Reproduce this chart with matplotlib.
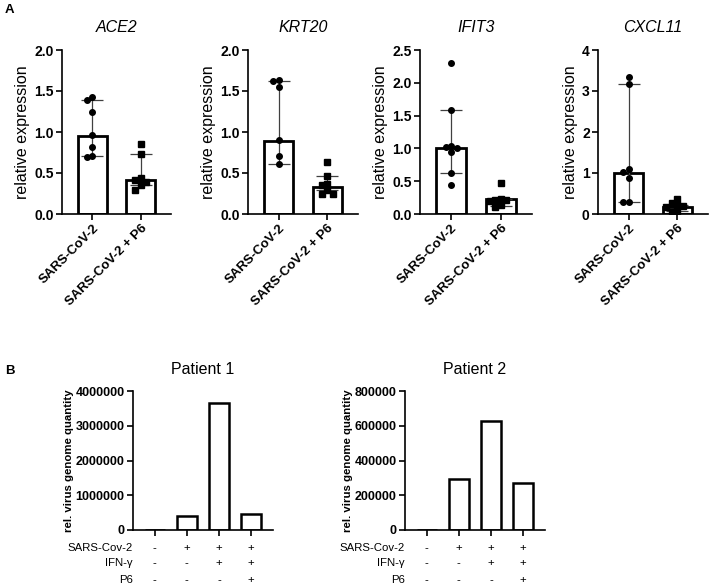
# -*- coding: utf-8 -*-
"""
Expression of ACE2, KRT20, IFIT3, CXCL11 (A) and virus genome quantity (B).
"""
import matplotlib
matplotlib.use('Agg')
import matplotlib.pyplot as plt
import matplotlib.transforms as mtransforms

plt.rcParams['font.family'] = ['Liberation Sans', 'DejaVu Sans']

# Panel A data
genes = ['ACE2', 'KRT20', 'IFIT3', 'CXCL11']
groups = ['SARS-CoV-2', 'SARS-CoV-2 + P6']

ace2_cov = [1.43, 1.39, 1.25, 0.96, 0.82, 0.71, 0.69]
ace2_p6 = [0.85, 0.73, 0.44, 0.42, 0.39, 0.35, 0.29]
krt20_cov = [1.64, 1.62, 1.55, 0.90, 0.71, 0.61]
krt20_p6 = [0.63, 0.46, 0.37, 0.35, 0.29, 0.25, 0.25]
ifit3_cov = [2.30, 1.58, 1.04, 1.02, 1.00, 0.95, 0.63, 0.44]
ifit3_p6 = [0.47, 0.23, 0.22, 0.22, 0.20, 0.13, 0.11]
cxcl11_cov = [3.35, 3.17, 1.09, 1.02, 0.89, 0.29, 0.29]
cxcl11_p6 = [0.36, 0.27, 0.21, 0.20, 0.17, 0.07, 0.05]

# bar height (median) and error bar ends, per gene: [cov, p6]
medians = [[0.95, 0.41], [0.89, 0.33], [1.00, 0.23], [1.01, 0.18]]
err_low = [[0.71, 0.35], [0.61, 0.29], [0.63, 0.12], [0.29, 0.07]]
err_high = [[1.39, 0.73], [1.62, 0.46], [1.58, 0.23], [3.17, 0.21]]

ymax_a = [2.0, 2.0, 2.5, 4.0]
yticks_a = [[0, 0.5, 1.0, 1.5, 2.0], [0, 0.5, 1.0, 1.5, 2.0],
            [0, 0.5, 1.0, 1.5, 2.0, 2.5], [0, 1, 2, 3, 4]]

# Panel B data
patients = ['Patient 1', 'Patient 2']
patient1 = [0, 400000, 3660000, 455000]
patient2 = [0, 293000, 630000, 270000]
ymax_b = [4000000, 800000]
yticks_b = [[0, 1000000, 2000000, 3000000, 4000000],
            [0, 200000, 400000, 600000, 800000]]
row_names = ['SARS-Cov-2', 'IFN-\u03b3', 'P6']
sars_sign = ['-', '+', '+', '+']
ifn_sign = ['-', '-', '+', '+']
p6_sign = ['-', '-', '-', '+']

W, H = 709, 585


def px_box(l, r, t, b):
    return [l / W, 1 - b / H, (r - l) / W, (b - t) / H]


def swarm_offsets(ax, xc, vals, diam):
    '''Simple beeswarm: shift points sideways when they would overlap.'''
    pts = ax.transData.transform([(xc, v) for v in vals])
    unit = ax.transData.transform((1, 0))[0] - ax.transData.transform((0, 0))[0]
    placed = []
    offs = []
    for _, y in pts:
        for k in [0, -1, 1, -2, 2, -3, 3]:
            x = k * diam
            if all((x - px) ** 2 + (y - py) ** 2 >= (0.95 * diam) ** 2 for px, py in placed):
                break
        placed.append((x, y))
        offs.append(x / unit)
    return offs


def style_axes(ax, lw=1.2):
    for s in ['top', 'right']:
        ax.spines[s].set_visible(False)
    for s in ['left', 'bottom']:
        ax.spines[s].set_linewidth(lw)
    ax.tick_params(width=lw, length=4, direction='out', pad=2)


fig = plt.figure(figsize=(W / 100, H / 100), dpi=100)

boxes_a = [(62, 171), (248, 358), (420, 532), (598, 708)]
points = [(ace2_cov, ace2_p6), (krt20_cov, krt20_p6),
          (ifit3_cov, ifit3_p6), (cxcl11_cov, cxcl11_p6)]

for i, gene in enumerate(genes):
    l, r = boxes_a[i]
    ax = fig.add_axes(px_box(l, r, 50, 214))
    ax.set_xlim(-0.63, 1.63)
    ax.set_ylim(0, ymax_a[i])
    ax.bar([0, 1], medians[i], width=0.6, color='white', edgecolor='black',
           linewidth=2.0, zorder=1)
    for j in range(2):
        ax.errorbar(j, medians[i][j],
                    yerr=[[medians[i][j] - err_low[i][j]], [err_high[i][j] - medians[i][j]]],
                    color='0.25', lw=0.9, capsize=8, capthick=0.9, zorder=2)
        vals = sorted(points[i][j], reverse=True)
        offs = swarm_offsets(ax, j, vals, 5.5)
        ax.plot([j + o for o in offs], vals, ls='none',
                marker='o' if j == 0 else 's', ms=4, color='black', zorder=3)
    style_axes(ax)
    ax.set_xticks([0, 1])
    ax.set_xticklabels(groups, rotation=45, ha='right', rotation_mode='anchor',
                       fontsize=9.5, fontweight='bold')
    ax.set_yticks(yticks_a[i])
    if i < 3:
        ax.set_yticklabels(['%.1f' % v for v in yticks_a[i]], fontsize=10, fontweight='bold')
    else:
        ax.set_yticklabels(['%d' % v for v in yticks_a[i]], fontsize=10, fontweight='bold')
    ax.set_ylabel('relative expression', fontsize=11.5, labelpad=3)
    ax.set_title(gene, fontsize=11.5, style='italic', pad=13)

fig.text(5 / W, 1 - 10 / H, 'A', fontsize=9.5, fontweight='bold', va='center')
fig.text(5 / W, 1 - 371 / H, 'B', fontsize=9.5, fontweight='bold', va='center')

boxes_b = [(133, 273), (405, 545)]
values_b = [patient1, patient2]
signs = [sars_sign, ifn_sign, p6_sign]
row_y = [548, 563, 580]

for i, name in enumerate(patients):
    l, r = boxes_b[i]
    ax = fig.add_axes(px_box(l, r, 391, 530))
    ax.set_xlim(-0.67, 3.68)
    ax.set_ylim(0, ymax_b[i])
    ax.bar(range(4), values_b[i], width=0.62, color='white', edgecolor='black',
           linewidth=1.8)
    style_axes(ax)
    ax.set_xticks(range(4))
    ax.set_xticklabels([])
    ax.set_yticks(yticks_b[i])
    ax.set_yticklabels(['%d' % v for v in yticks_b[i]], fontsize=9, fontweight='bold')
    ax.set_ylabel('rel. virus genome quantity', fontsize=8.2, fontweight='bold', labelpad=1)
    ax.set_title(name, fontsize=11.5, pad=12)

    trans = mtransforms.blended_transform_factory(ax.transData, ax.transAxes)
    for k, row in enumerate(row_names):
        yy = -(row_y[k] - 530) / 139
        ax.text(-0.67, yy, row, transform=trans, ha='right', va='center', fontsize=8.2)
        for j, sgn in enumerate(signs[k]):
            ax.text(j, yy, sgn, transform=trans, ha='center', va='center', fontsize=8.2)

fig.savefig('out.png', dpi=100)
